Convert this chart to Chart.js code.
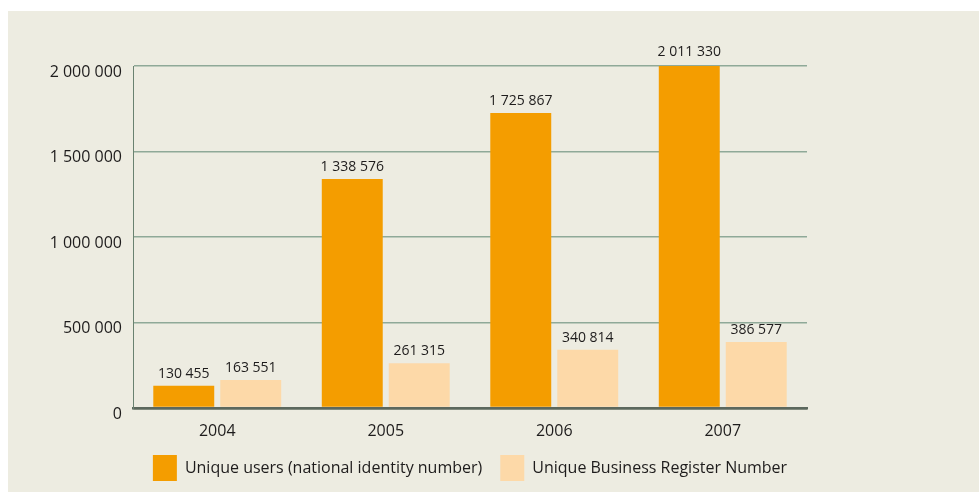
<!DOCTYPE html>
<html>
<head>
<meta charset="utf-8">
<script src="https://cdn.jsdelivr.net/npm/chart.js@4/dist/chart.umd.min.js"></script>
<style>
  html, body { margin: 0; padding: 0; background: #ffffff; }
  #wrap { position: absolute; left: 8px; top: 11px; width: 971px; height: 481px; background: #edece1; }
</style>
</head>
<body>
<div id="wrap"><canvas id="chart_users"></canvas></div>
<script>
var years = ['2004', '2005', '2006', '2007'];
var uniqueUsers = [130455, 1338576, 1725867, 2011330];
var uniqueBusiness = [163551, 261315, 340814, 386577];
var yTicks = [0, 500000, 1000000, 1500000, 2000000];

function spaced(v) {
    return String(v).replace(/\B(?=(\d{3})+(?!\d))/g, ' ');
}

var txt = '#1e1c1c';
var fontFam = '"Open Sans", "DejaVu Sans", sans-serif';

var chart_users = new Chart(document.getElementById('chart_users'), {
    type: 'bar',
    data: {
        labels: years,
        datasets: [
            {
                label: 'Unique users (national identity number)',
                data: uniqueUsers,
                backgroundColor: '#f49d00',
                borderWidth: 0,
                categoryPercentage: 0.795,
                barPercentage: 0.91
            },
            {
                label: 'Unique Business Register Number',
                data: uniqueBusiness,
                backgroundColor: '#fdd9a8',
                borderWidth: 0,
                categoryPercentage: 0.795,
                barPercentage: 0.91
            }
        ]
    },
    options: {
        animation: false,
        responsive: true,
        maintainAspectRatio: false,
        layout: {
            padding: { left: 0, right: 172, top: 55, bottom: 1 }
        },
        plugins: {
            tooltip: { enabled: false },
            legend: {
                position: 'bottom',
                fullSize: false,
                labels: {
                    boxWidth: 24,
                    boxHeight: 26,
                    padding: 18,
                    color: txt,
                    font: { family: fontFam, size: 16 }
                }
            }
        },
        scales: {
            x: {
                afterFit: function(scale) { scale.height = 29; },
                grid: { display: false, drawTicks: false },
                border: { display: true, color: '#5c685d', width: 2.5 },
                ticks: {
                    padding: 14,
                    color: txt,
                    font: { family: fontFam, size: 16 }
                }
            },
            y: {
                min: 0,
                max: 2000000,
                afterFit: function(scale) { scale.width = 125; },
                afterBuildTicks: function(scale) {
                    scale.ticks = yTicks.map(function(v) { return { value: v }; });
                },
                grid: {
                    drawTicks: false,
                    color: function(ctx) { return ctx.tick && ctx.tick.value === 0 ? '#5c685d' : '#8fa998'; },
                    lineWidth: function(ctx) { return ctx.tick && ctx.tick.value === 0 ? 2.5 : 1.5; }
                },
                border: { display: true, color: '#6a8270', width: 1 },
                ticks: {
                    padding: 11,
                    labelOffset: 6,
                    color: txt,
                    font: { family: fontFam, size: 16 },
                    callback: function(value) { return spaced(value); }
                }
            }
        }
    },
    plugins: [{
        id: 'valueLabels',
        afterDatasetsDraw: function(chart) {
            var ctx = chart.ctx;
            ctx.save();
            ctx.font = '14px ' + fontFam;
            ctx.fillStyle = txt;
            ctx.textAlign = 'center';
            ctx.textBaseline = 'alphabetic';
            chart.data.datasets.forEach(function(ds, di) {
                var meta = chart.getDatasetMeta(di);
                meta.data.forEach(function(bar, i) {
                    ctx.fillText(spaced(ds.data[i]), bar.x, bar.y - 8);
                });
            });
            ctx.restore();
        }
    }]
});
</script>
</body>
</html>
